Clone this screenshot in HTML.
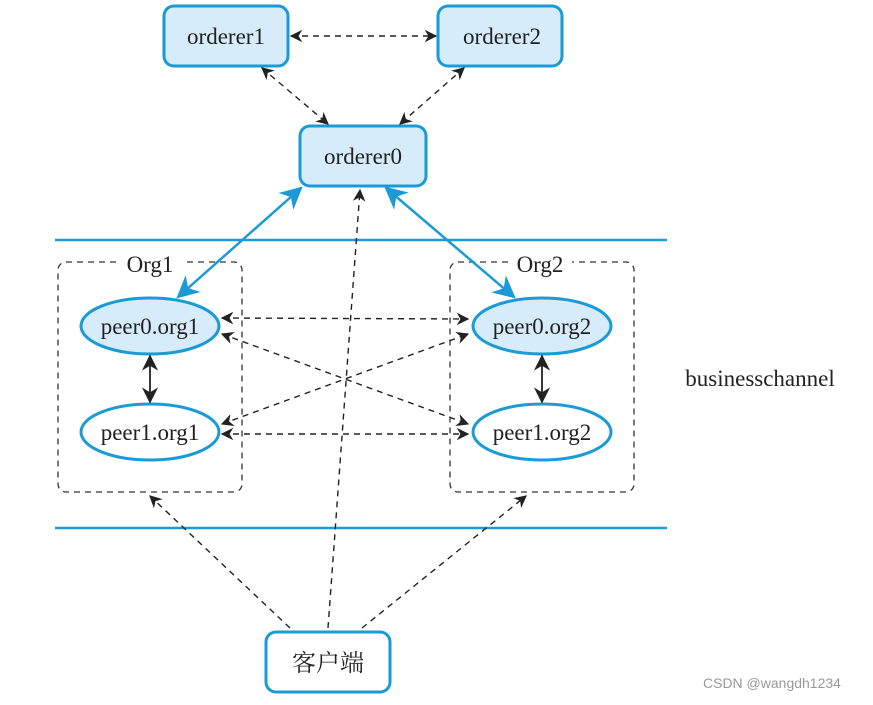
<!DOCTYPE html><html><head><meta charset="utf-8"><style>body{margin:0;background:#fff}</style></head><body>
<svg width="873" height="700" xmlns="http://www.w3.org/2000/svg" font-family="Liberation Serif, serif">
<defs>
<marker id="a" viewBox="0 0 10 10" refX="9" refY="5" markerWidth="9" markerHeight="9" orient="auto-start-reverse"><path d="M0,0 L10,5 L0,10 L3,5z" fill="#222"/></marker>
<marker id="b" viewBox="0 0 10 10" refX="9" refY="5" markerWidth="9" markerHeight="9" orient="auto-start-reverse"><path d="M0,0 L10,5 L0,10 L3,5z" fill="#1a9ad6"/></marker>
</defs>
<g fill="#d6ecfa" stroke="#1a9ad6" stroke-width="3">
<rect x="164" y="6" width="124" height="60" rx="10"/>
<rect x="438" y="6" width="124" height="60" rx="10"/>
<rect x="300" y="126" width="126" height="60" rx="10"/>
<ellipse cx="150" cy="326" rx="69" ry="28"/>
<ellipse cx="542" cy="326" rx="69" ry="28"/>
<ellipse cx="150" cy="432" rx="69" ry="28" fill="#fff"/>
<ellipse cx="542" cy="432" rx="69" ry="28" fill="#fff"/>
<rect x="266" y="632" width="124" height="60" rx="10" fill="#fff"/>
</g>
<g stroke="#1a9ad6" stroke-width="2.5">
<line x1="55" y1="240" x2="667" y2="240"/><line x1="55" y1="528" x2="667" y2="528"/>
</g>
<g fill="none" stroke="#333" stroke-width="1.3" stroke-dasharray="6,5">
<rect x="58" y="262" width="184" height="230" rx="8"/>
<rect x="450" y="262" width="184" height="230" rx="8"/>
</g>
<rect x="118" y="250" width="64" height="24" fill="#fff"/>
<rect x="508" y="250" width="64" height="24" fill="#fff"/>
<g stroke="#1a9ad6" stroke-width="2.5" marker-start="url(#b)" marker-end="url(#b)">
<line x1="301" y1="188" x2="178" y2="297"/>
<line x1="386" y1="188" x2="514" y2="297"/>
</g>
<g stroke="#222" stroke-width="1.4" stroke-dasharray="6,5" marker-start="url(#a)" marker-end="url(#a)" fill="none">
<line x1="291" y1="36" x2="436" y2="36"/>
<line x1="262" y1="68" x2="328" y2="124"/>
<line x1="464" y1="68" x2="400" y2="124"/>
<line x1="222" y1="318" x2="468" y2="319"/>
<line x1="222" y1="334" x2="468" y2="424"/>
<line x1="222" y1="424" x2="468" y2="334"/>
<line x1="222" y1="434" x2="468" y2="434"/>
</g>
<g stroke="#222" stroke-width="1.4" stroke-dasharray="6,5" marker-end="url(#a)" fill="none">
<line x1="328" y1="628" x2="360" y2="190"/>
<line x1="290" y1="628" x2="150" y2="496"/>
<line x1="362" y1="628" x2="526" y2="496"/>
</g>
<g stroke="#222" stroke-width="1.8" marker-start="url(#a)" marker-end="url(#a)">
<line x1="150" y1="356" x2="150" y2="402"/>
<line x1="542" y1="356" x2="542" y2="402"/>
</g>
<g font-size="23" fill="#222" text-anchor="middle">
<text x="226" y="44">orderer1</text>
<text x="502" y="44">orderer2</text>
<text x="363" y="164">orderer0</text>
<text x="150" y="334">peer0.org1</text>
<text x="542" y="334">peer0.org2</text>
<text x="150" y="440">peer1.org1</text>
<text x="542" y="440">peer1.org2</text>
<text x="150" y="272">Org1</text>
<text x="540" y="272">Org2</text>
<text x="760" y="386">businesschannel</text>
<text x="328" y="671" font-family="Noto Serif CJK SC, serif" font-size="24">客户端</text>
</g>
<text x="703" y="688" font-family="Liberation Sans, sans-serif" font-size="14" fill="#999">CSDN @wangdh1234</text>
</svg></body></html>
